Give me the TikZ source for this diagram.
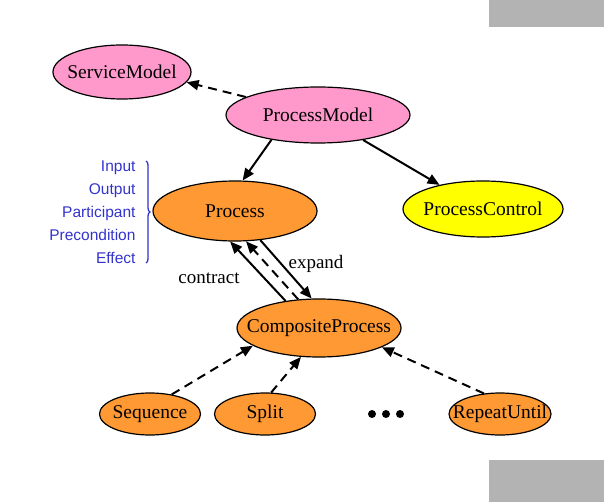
\documentclass[tikz,border=0pt]{standalone}
\usepackage{fontspec}
\setmainfont{Liberation Serif}
\newfontfamily\labsans{Liberation Sans}
\usetikzlibrary{shapes.geometric,arrows.meta,decorations.pathreplacing}
\definecolor{pinkfill}{RGB}{255,153,204}
\definecolor{orangefill}{RGB}{255,153,51}
\definecolor{yellowfill}{RGB}{255,255,0}
\definecolor{graybox}{RGB}{179,179,179}
\definecolor{labblue}{RGB}{51,51,204}
\newcommand\zbx[1]{\makebox[0pt]{#1}}
\tikzset{
  ell/.style={ellipse, draw=black, line width=1.2pt, inner sep=0pt,
    font=\fontsize{19.5}{22}\selectfont},
  pinkell/.style={ell, fill=pinkfill},
  orell/.style={ell, fill=orangefill},
  yelell/.style={ell, fill=yellowfill},
  conn/.style={line width=2pt, -{Triangle[length=12pt,width=10pt]}},
  dconn/.style={conn, dash pattern=on 9pt off 6pt},
  lab/.style={font=\fontsize{19}{22}\selectfont}
}
\begin{document}
\begin{tikzpicture}[x=1pt,y=-1pt]
\useasboundingbox (0,0) rectangle (604,502);
\fill[graybox] (489,0) rectangle (604,27);
\fill[graybox] (489,460) rectangle (604,502);

\node[pinkell, minimum width=138pt, minimum height=54pt] (sm) at (122,72) {\zbx{ServiceModel}};
\node[pinkell, minimum width=184pt, minimum height=56pt] (pm) at (318,115) {\zbx{ProcessModel}};
\node[orell, minimum width=164pt, minimum height=60pt] (proc) at (235,211) {\zbx{Process}};
\node[yelell, minimum width=160pt, minimum height=56pt] (pc) at (483,209) {\zbx{ProcessControl}};
\node[orell, minimum width=164pt, minimum height=58pt] (comp) at (319,328) {\zbx{CompositeProcess}};
\node[orell, minimum width=101pt, minimum height=42pt] (seq) at (150,414) {\zbx{Sequence}};
\node[orell, minimum width=101pt, minimum height=42pt] (split) at (265,414) {\zbx{Split}};
\node[orell, minimum width=102pt, minimum height=42pt] (rep) at (500,414) {\zbx{RepeatUntil}};

\foreach \i/\xx in {1/372,2/386,3/400}
  \fill (\xx,414) circle (4pt);

\node[anchor=east, align=right, text=labblue,
  font=\labsans\fontsize{15.5}{23}\selectfont] (io) at (139,212)
  {Input\\Output\\Participant\\Precondition\\Effect};
\coordinate (bt) at (146,161);
\coordinate (bb) at (146,263);
\draw[labblue, line width=1.3pt, decorate, decoration={brace, amplitude=4pt}] (bt) -- (bb);

\draw[dconn] (pm.166) -- (sm.351);
\draw[conn] (pm.208) -- (proc.76);
\draw[conn] (pm.331) -- (pc.151);

\draw[conn] (comp.141) -- (proc.261);
\draw[dconn] (comp.126) -- (proc.290);
\draw[conn] (proc.311) -- (comp.104);
\node[lab] (contract) at (209,278) {contract};
\node[lab] (expand) at (316,264) {expand};

\draw[dconn] (seq.42) -- (comp.195);
\draw[dconn] (split.74) -- (comp.238);
\draw[dconn] (rep.128) -- (comp.343);
\end{tikzpicture}
\end{document}
